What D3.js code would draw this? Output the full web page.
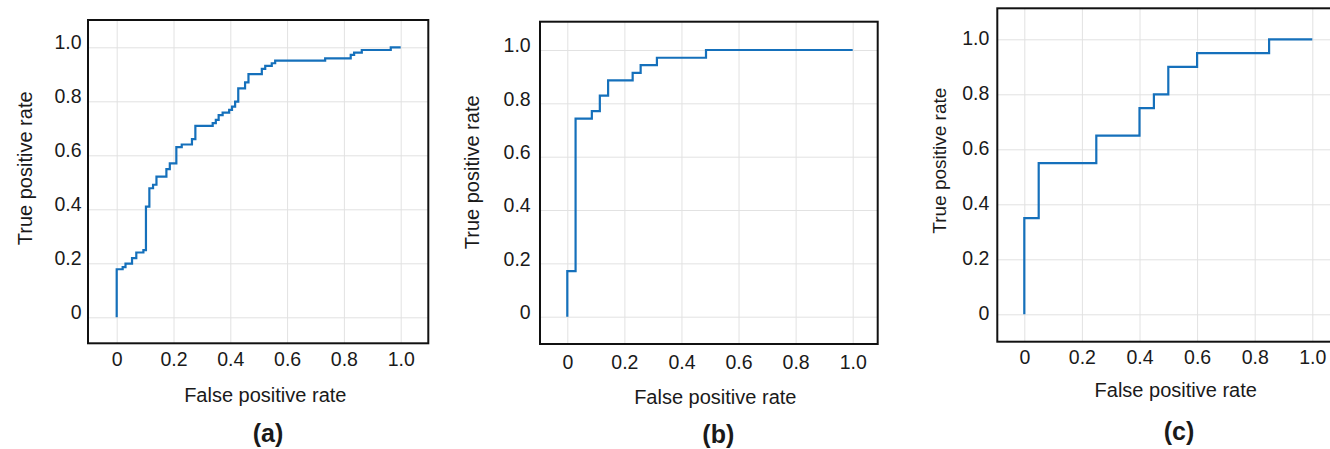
<!DOCTYPE html>
<html>
<head>
<meta charset="utf-8">
<script src="https://cdn.jsdelivr.net/npm/d3@7"></script>
<style>
  html, body { margin: 0; padding: 0; background: #fff; }
  svg { display: block; }
  text { font-family: "Liberation Sans", Arial, sans-serif; fill: #1a1a1a; }
</style>
</head>
<body>
<svg id="chart" width="1330" height="449"></svg>
<script>
// ---- Data ----
const tickValues = [0, 0.2, 0.4, 0.6, 0.8, 1.0];
const tickLabels = ["0", "0.2", "0.4", "0.6", "0.8", "1.0"];
const xTitle = "False positive rate";
const yTitle = "True positive rate";
const panelLabels = ["(a)", "(b)", "(c)"];

const fprA = [0, 0, 0.021, 0.031, 0.054, 0.069, 0.094, 0.103, 0.115, 0.128, 0.140, 0.175, 0.187, 0.210, 0.229, 0.265, 0.277, 0.338, 0.349, 0.359, 0.373, 0.396, 0.406, 0.417, 0.428, 0.452, 0.464, 0.511, 0.523, 0.546, 0.558, 0.734, 0.824, 0.836, 0.863, 0.965, 1.0];
const tprA = [0, 0.178, 0.186, 0.199, 0.219, 0.240, 0.249, 0.410, 0.478, 0.491, 0.521, 0.549, 0.570, 0.630, 0.640, 0.660, 0.709, 0.719, 0.731, 0.749, 0.758, 0.768, 0.780, 0.799, 0.848, 0.870, 0.901, 0.920, 0.931, 0.941, 0.951, 0.959, 0.972, 0.980, 0.990, 1.0, 1.0];

const fprB = [0, 0, 0.029, 0.086, 0.114, 0.143, 0.229, 0.257, 0.314, 0.486, 1.0];
const tprB = [0, 0.171, 0.743, 0.771, 0.829, 0.886, 0.914, 0.943, 0.971, 1.0, 1.0];

const fprC = [0, 0, 0.05, 0.25, 0.40, 0.45, 0.50, 0.60, 0.85, 1.0];
const tprC = [0, 0.35, 0.55, 0.65, 0.75, 0.80, 0.90, 0.95, 1.0, 1.0];

// ---- Layout (pixel geometry only) ----
const panels = [
  { fpr: fprA, tpr: tprA, label: panelLabels[0],
    x0: 116.7, x1: 400.7, y0: 317.3, y1: 47.3,
    frame: { l: 88, r: 428.3, t: 20, b: 343.3 },
    xTickY: 23, yTickGap: 6.5, yTickDy: -6,
    yTitle: { x: 31.5, y: 168.3, size: 20 },
    xTitle: { x: 265.3, y: 401.7 },
    pLabel: { x: 268, y: 442 } },
  { fpr: fprB, tpr: tprB, label: panelLabels[1],
    x0: 567.3, x1: 852.7, y0: 316.7, y1: 50,
    frame: { l: 540, r: 877.7, t: 21.7, b: 344 },
    xTickY: 25, yTickGap: 9.3, yTickDy: -5,
    yTitle: { x: 479, y: 172.3, size: 20 },
    xTitle: { x: 715.3, y: 404 },
    pLabel: { x: 718.3, y: 443 } },
  { fpr: fprC, tpr: tprC, label: panelLabels[2],
    x0: 1024.3, x1: 1312.3, y0: 314.3, y1: 39.3,
    frame: { l: 997.3, r: 1345, t: 8.3, b: 341.7 },
    xTickY: 22.5, yTickGap: 8, yTickDy: -2,
    yTitle: { x: 946, y: 160.7, size: 19 },
    xTitle: { x: 1175.7, y: 397 },
    pLabel: { x: 1179, y: 440 } }
];

const svg = d3.select("#chart");
const gridColor = "#e2e2e2";
const lineColor = "#1570bb";
const tickFont = "19.5px";

panels.forEach(p => {
  const x = d3.scaleLinear().domain([0, 1]).range([p.x0, p.x1]);
  const y = d3.scaleLinear().domain([0, 1]).range([p.y0, p.y1]);
  const f = p.frame;
  const g = svg.append("g");

  // x axis with vertical grid lines
  const gx = g.append("g")
    .attr("transform", `translate(0,${f.b})`)
    .call(d3.axisBottom(x).tickValues(tickValues)
      .tickFormat((d, i) => tickLabels[i])
      .tickSize(-(f.b - f.t)));
  gx.select(".domain").remove();
  gx.selectAll(".tick line").attr("stroke", gridColor).attr("stroke-width", 1);
  gx.selectAll(".tick text")
    .attr("y", p.xTickY).attr("dy", null)
    .style("font-size", tickFont)
    .style("font-family", '"Liberation Sans", Arial, sans-serif')
    .attr("fill", "#1a1a1a");

  // y axis with horizontal grid lines
  const gy = g.append("g")
    .attr("transform", `translate(${f.l},0)`)
    .call(d3.axisLeft(y).tickValues(tickValues)
      .tickFormat((d, i) => tickLabels[i])
      .tickSize(-(f.r - f.l)));
  gy.select(".domain").remove();
  gy.selectAll(".tick line").attr("stroke", gridColor).attr("stroke-width", 1);
  gy.selectAll(".tick text")
    .attr("x", -p.yTickGap)
    .attr("dy", "0.35em")
    .attr("transform", `translate(0,${p.yTickDy})`)
    .style("font-size", tickFont)
    .style("font-family", '"Liberation Sans", Arial, sans-serif')
    .attr("fill", "#1a1a1a");

  // ROC curve
  const pts = p.fpr.map((v, i) => [v, p.tpr[i]]);
  const line = d3.line().x(d => x(d[0])).y(d => y(d[1])).curve(d3.curveStepAfter);
  g.append("path").datum(pts)
    .attr("d", line)
    .attr("fill", "none")
    .attr("stroke", lineColor)
    .attr("stroke-width", 2.2)
    .attr("stroke-linejoin", "miter");

  // frame
  g.append("rect")
    .attr("x", f.l).attr("y", f.t)
    .attr("width", f.r - f.l).attr("height", f.b - f.t)
    .attr("fill", "none").attr("stroke", "#111").attr("stroke-width", 2);

  // titles
  g.append("text")
    .attr("transform", `translate(${p.yTitle.x},${p.yTitle.y}) rotate(-90)`)
    .attr("text-anchor", "middle")
    .style("font-size", p.yTitle.size + "px")
    .text(yTitle);
  g.append("text")
    .attr("x", p.xTitle.x).attr("y", p.xTitle.y)
    .attr("text-anchor", "middle")
    .style("font-size", "20px")
    .text(xTitle);
  g.append("text")
    .attr("x", p.pLabel.x).attr("y", p.pLabel.y)
    .attr("text-anchor", "middle")
    .style("font-size", "25px")
    .style("font-weight", "bold")
    .text(p.label);
});
</script>
</body>
</html>
